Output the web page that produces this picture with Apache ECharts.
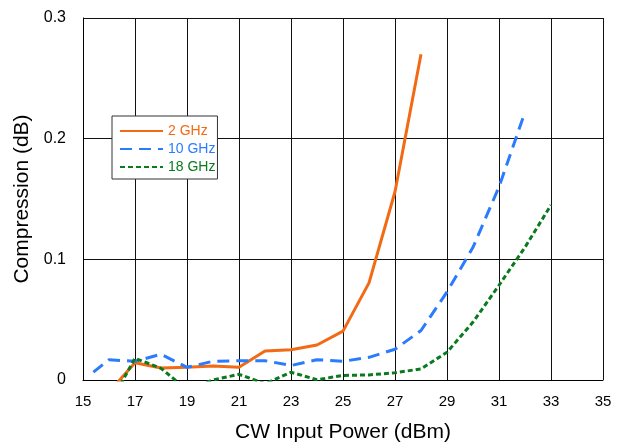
<!DOCTYPE html>
<html>
<head>
<meta charset="utf-8">
<script src="https://cdn.jsdelivr.net/npm/echarts@6/dist/echarts.min.js"></script>
<style>html,body{margin:0;padding:0;background:#fff}#c{width:618px;height:444px}</style>
</head>
<body>
<div id="c"></div>
<script>
const x2 = [16, 17, 18, 19, 20, 21, 22, 23, 24, 25, 26, 27, 28];
const y2 = [-0.010, 0.0143, 0.0100, 0.0105, 0.0115, 0.0105, 0.024, 0.025, 0.029, 0.0405, 0.0805, 0.156, 0.270];
const x10 = [15.4, 16, 17, 18, 19, 20, 21, 22, 23, 24, 25, 26, 27, 28, 29, 30, 31, 32];
const y10 = [0.0065, 0.0168, 0.0155, 0.0213, 0.0105, 0.0155, 0.016, 0.016, 0.012, 0.0168, 0.0155, 0.0188, 0.0255, 0.041, 0.073, 0.110, 0.160, 0.222];
const x18 = [16, 17, 18, 19, 20, 21, 22, 23, 24, 25, 26, 27, 28, 29, 30, 31, 32, 33];
const y18 = [-0.021, 0.018, 0.0097, -0.008, 0.0, 0.0047, -0.003, 0.0064, 0.0002, 0.0038, 0.0042, 0.006, 0.0092, 0.023, 0.048, 0.0785, 0.110, 0.145];
const seriesNames = ['2 GHz', '10 GHz', '18 GHz'];
const colors = ['#F26A14', '#2B7BFF', '#0B7A1E'];

const zip = (xs, ys) => xs.map((x, i) => [x, ys[i]]);
const font = 'Liberation Sans, Arial, sans-serif';

const chart = echarts.init(document.getElementById('c'));
chart.setOption({
  animation: false,
  grid: { left: 83, right: 15, top: 18, bottom: 64, outerBoundsMode: 'none', containLabel: false },
  legend: {
    orient: 'vertical',
    left: 112, top: 116,
    padding: [8, 2, 5, 7],
    itemWidth: 43, itemHeight: 14, itemGap: 4,
    borderColor: '#333', borderWidth: 1, backgroundColor: '#fff',
    itemStyle: { opacity: 0 },
    textStyle: { fontFamily: font, fontSize: 14 },
    data: seriesNames.map((n, i) => ({ name: n, textStyle: { color: colors[i] } }))
  },
  xAxis: {
    type: 'value', min: 15, max: 35, interval: 2,
    name: 'CW Input Power (dBm)', nameLocation: 'middle', nameGap: 42,
    nameTextStyle: { fontFamily: font, fontSize: 21, color: '#000' },
    axisLine: { show: true, lineStyle: { color: '#000', width: 1 } },
    axisTick: { show: false },
    axisLabel: { fontFamily: font, fontSize: 15, color: '#000', margin: 14 },
    splitLine: { show: true, lineStyle: { color: '#111', width: 1 } }
  },
  yAxis: {
    type: 'value', min: 0, max: 0.3, interval: 0.1,
    name: 'Compression (dB)', nameLocation: 'middle', nameGap: 47,
    nameTextStyle: { fontFamily: font, fontSize: 21, color: '#000' },
    axisLine: { show: true, lineStyle: { color: '#000', width: 1 } },
    axisTick: { show: false },
    axisLabel: { fontFamily: font, fontSize: 16, color: '#000', margin: 17 },
    splitLine: { show: true, lineStyle: { color: '#111', width: 1 } }
  },
  series: [
    { name: seriesNames[0], type: 'line', data: zip(x2, y2), symbol: 'none', clip: true,
      lineStyle: { color: colors[0], width: 3 }, itemStyle: { color: colors[0] } },
    { name: seriesNames[1], type: 'line', data: zip(x10, y10), symbol: 'none', clip: true,
      lineStyle: { color: colors[1], width: 3, type: [12, 7] }, itemStyle: { color: colors[1] } },
    { name: seriesNames[2], type: 'line', data: zip(x18, y18), symbol: 'none', clip: true,
      lineStyle: { color: colors[2], width: 3, type: [5, 3] }, itemStyle: { color: colors[2] } }
  ]
});
</script>
</body>
</html>
